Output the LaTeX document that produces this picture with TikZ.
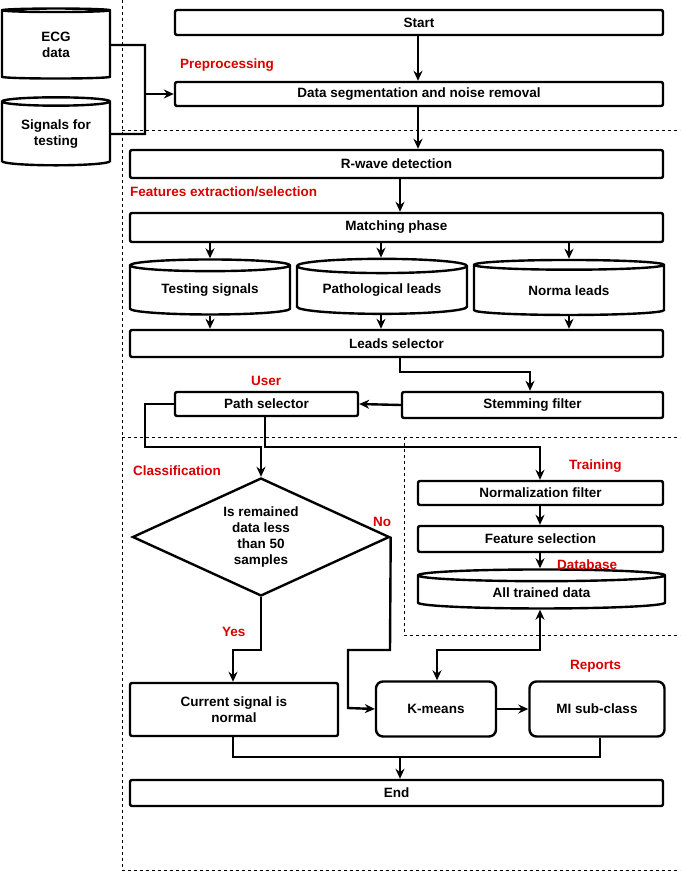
\documentclass[tikz,border=0pt]{standalone}
\usepackage{fontspec}
\setmainfont{Liberation Sans}
\usetikzlibrary{shapes.geometric,arrows.meta,positioning}
\tikzset{
  box/.style={draw,line width=2.4pt,rounded corners=2pt,font=\bfseries\fontsize{13.5}{16}\selectfont,inner sep=0pt,align=center},
  db/.style={draw,line width=2.4pt,cylinder,shape border rotate=90,aspect=0.12,font=\bfseries\fontsize{13.5}{16}\selectfont,inner sep=0pt,align=center},
  tag/.style={text=red!85!black,font=\bfseries\fontsize{13.5}{16}\selectfont,anchor=west,inner sep=0pt},
  line/.style={line width=2.4pt},
  arr/.style={line width=2.4pt,-{Stealth[length=10pt,width=9pt]}},
  frame/.style={dashed,line width=1pt}
}
\newcommand{\bx}[5]{\node[box,minimum width=#3-#2,minimum height=#5-#4] (#1) at ({(#2+#3)/2},{(#4+#5)/2})}
\newcommand{\cy}[5]{\node[db,minimum width=#3-#2,minimum height=#5-#4] (#1) at ({(#2+#3)/2},{(#4+#5)/2})}
\begin{document}
\begin{tikzpicture}[x=1pt,y=-1pt]
\useasboundingbox (0,0) rectangle (680,875);
% dashed frames
\draw[frame] (122,0) -- (122,870) -- (680,870);
\draw[frame] (122,0) -- (680,0);
\draw[frame] (122,130) -- (680,130);
\draw[frame] (122,437) -- (680,437);
\draw[frame] (404,437) -- (404,635) -- (680,635);
% nodes
\cy{ecg}{2}{110}{10}{80} {ECG\\data};
\cy{sig}{2}{110}{100}{168} {Signals for\\testing};
\bx{start}{175}{663}{10}{35} {Start};
\bx{seg}{175}{663}{82}{106} {Data segmentation and noise removal};
\bx{rw}{130}{663}{150}{178} {R-wave detection};
\bx{match}{130}{663}{213}{242} {Matching phase};
\cy{test}{130}{290}{263}{318} {Testing signals};
\cy{path}{297}{467}{263}{318} {Pathological leads};
\cy{norm}{474}{664}{263}{318} {Norma leads};
\bx{leads}{130}{663}{330}{357} {Leads selector};
\bx{stem}{402}{663}{392}{418} {Stemming filter};
\bx{psel}{175}{358}{392}{416} {Path selector};
\node[diamond,draw,line width=2.4pt,minimum width=257,minimum height=118,inner sep=0pt,aspect=2.18,
  font=\bfseries\fontsize{13.5}{16}\selectfont,align=center] (dec) at (261,537) {Is remained\\data less\\than 50\\samples};
\bx{nf}{418}{663}{481}{505} {Normalization filter};
\bx{fs}{418}{663}{526}{552} {Feature selection};
\cy{all}{418}{665}{573}{612} {All trained data};
\bx{cur}{130}{338}{683}{736} {Current signal is\\normal};
\node[box,rounded corners=7pt,minimum width=120,minimum height=55] (km) at (436,709) {K-means};
\node[box,rounded corners=7pt,minimum width=135,minimum height=55] (mi) at (597,709) {MI sub-class};
\bx{end}{130}{663}{780}{806} {End};
% labels
\node[tag] at (180,65) {Preprocessing};
\node[tag] at (130,192) {Features extraction/selection};
\node[tag] at (251,381) {User};
\node[tag] at (133,471) {Classification};
\node[tag] at (373,522) {No};
\node[tag] at (222,632) {Yes};
\node[tag] at (569,466) {Training};
\node[tag] at (557,565) {Database};
\node[tag] at (570,666) {Reports};
% connectors
\draw[arr] (start.south -| 418,0) -- (seg.north -| 418,0);
\draw[line] (ecg.east) -- (145,45) -- (145,134) -- (sig.east);
\draw[arr] (145,94) -- (seg.west);
\draw[arr] (seg.south -| 418,0) -- (rw.north -| 418,0);
\draw[arr] (rw.south -| 400,0) -- (match.north -| 400,0);
\foreach \c/\x in {test/210,path/381,norm/569}{
  \draw[arr] (match.south -| \x,0) -- (\c.north -| \x,0);
  \draw[arr] (\c.south -| \x,0) -- (leads.north -| \x,0);
}
\draw[arr] (leads.south -| 400,0) -- (400,372) -- (530,372) -- (stem.north -| 530,0);
\draw[arr] (stem.west) -- (psel.east);
\draw[arr] (psel.west) -- (145,404) -- (145,447) -- (261,447) -- (dec.north);
\draw[arr] (psel.south -| 265,0) -- (265,447) -- (540,447) -- (nf.north -| 540,0);
\draw[arr] (nf.south -| 540,0) -- (fs.north -| 540,0);
\draw[arr] (fs.south -| 540,0) -- (all.north -| 540,0);
\draw[arr] (dec.east) -- (390,650) -- (348,650) -- (348,708) -- (km.west);
\draw[arr] (dec.south) -- (261,650) -- (233,650) -- (cur.north -| 233,0);
\draw[arr,{Stealth[length=10pt,width=9pt]}-{Stealth[length=10pt,width=9pt]}] (all.south -| 540,0) -- (540,650) -- (437,650) -- (km.north -| 437,0);
\draw[arr] (km.east) -- (mi.west);
\draw[line] (cur.south -| 233,0) -- (233,757) -- (600,757) -- (mi.south -| 600,0);
\draw[arr] (400,757) -- (end.north -| 400,0);
\end{tikzpicture}
\end{document}
